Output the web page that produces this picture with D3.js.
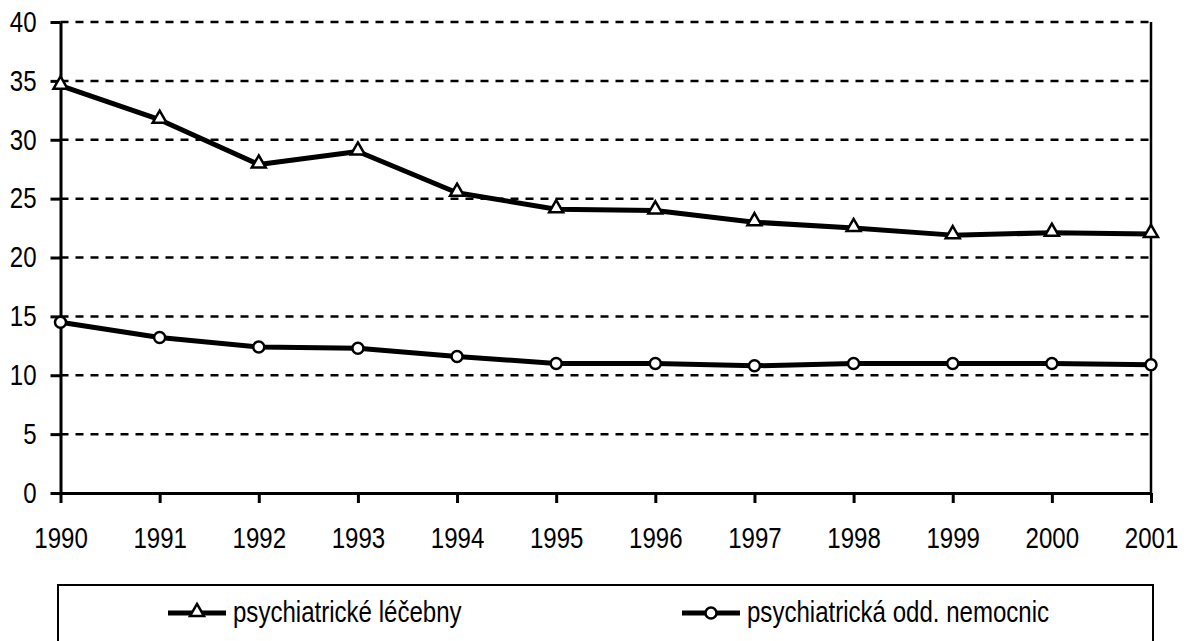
<!DOCTYPE html>
<html>
<head>
<meta charset="utf-8">
<script src="https://cdn.jsdelivr.net/npm/d3@7"></script>
<style>
  body { margin: 0; background: #fff; }
  svg { display: block; font-family: "Liberation Sans", Arial, sans-serif; }
</style>
</head>
<body>
<svg></svg>
<script>
const years = [1990, 1991, 1992, 1993, 1994, 1995, 1996, 1997, 1998, 1999, 2000, 2001];
const lecebny = [34.6, 31.7, 27.9, 29.0, 25.5, 24.1, 24.0, 23.0, 22.5, 21.9, 22.1, 22.0];
const oddeleni = [14.5, 13.2, 12.4, 12.3, 11.6, 11.0, 11.0, 10.8, 11.0, 11.0, 11.0, 10.9];
const yTicks = [0, 5, 10, 15, 20, 25, 30, 35, 40];
const seriesNames = ['psychiatrické léčebny', 'psychiatrická odd. nemocnic'];

const width = 1184;
const height = 641;
const plotLeft = 60.5, plotRight = 1151, plotTop = 22, plotBottom = 493;
// the original text is narrow and tall
const fontSize = 29, squeeze = 0.83;

const svg = d3.select('svg')
    .attr('width', width)
    .attr('height', height);

const x = d3.scaleLinear()
    .domain(d3.extent(years))
    .range([plotLeft, plotRight]);

const y = d3.scaleLinear()
    .domain([0, 40])
    .range([plotBottom, plotTop]);

// dashed gridlines
svg.append('g')
  .selectAll('line')
  .data(yTicks.filter(d => d > 0))
  .enter()
  .append('line')
    .attr('x1', plotLeft)
    .attr('x2', plotRight)
    .attr('y1', d => y(d))
    .attr('y2', d => y(d))
    .attr('stroke', '#000')
    .attr('stroke-width', 2.5)
    .attr('stroke-dasharray', '8,7');

// right edge of the plot
svg.append('line')
    .attr('x1', plotRight)
    .attr('x2', plotRight)
    .attr('y1', plotTop)
    .attr('y2', plotBottom)
    .attr('stroke', '#000')
    .attr('stroke-width', 2.5);

const yAxis = svg.append('g')
    .attr('transform', `translate(${plotLeft},0)`)
    .call(d3.axisLeft(y).tickValues(yTicks).tickSize(10).tickSizeOuter(0));

const xAxis = svg.append('g')
    .attr('transform', `translate(0,${plotBottom})`)
    .call(d3.axisBottom(x).tickValues(years).tickFormat(d3.format('d'))
      .tickSize(10).tickSizeOuter(0).tickPadding(24));

[yAxis, xAxis].forEach(g => {
  g.selectAll('path, line').attr('stroke', '#000').attr('stroke-width', 3);
  g.selectAll('text').attr('fill', '#000').attr('font-size', fontSize)
    .attr('font-family', '"Liberation Sans", Arial, sans-serif')
    .attr('transform', `scale(${squeeze},1)`);
});
yAxis.selectAll('text').attr('x', -24 / squeeze);

const line = d3.line()
    .x((d, i) => x(years[i]))
    .y(d => y(d));

const triangle = d3.symbol().type(d3.symbolTriangle).size(85);

function drawSeries(values, marker) {
  svg.append('path')
      .datum(values)
      .attr('fill', 'none')
      .attr('stroke', '#000')
      .attr('stroke-width', 5)
      .attr('stroke-linejoin', 'round')
      .attr('d', line);

  const pts = svg.append('g')
    .selectAll('.pt')
    .data(values)
    .enter();

  if (marker === 'triangle') {
    pts.append('path')
        .attr('d', triangle)
        .attr('transform', (d, i) => `translate(${x(years[i])},${y(d) - 1})`)
        .attr('fill', '#fff')
        .attr('stroke', '#000')
        .attr('stroke-width', 2.5);
  } else {
    pts.append('circle')
        .attr('cx', (d, i) => x(years[i]))
        .attr('cy', d => y(d))
        .attr('r', 5.5)
        .attr('fill', '#fff')
        .attr('stroke', '#000')
        .attr('stroke-width', 2.5);
  }
}

drawSeries(lecebny, 'triangle');
drawSeries(oddeleni, 'circle');

// legend
const legend = svg.append('g');
legend.append('rect')
    .attr('x', 58)
    .attr('y', 585)
    .attr('width', 1095)
    .attr('height', 70)
    .attr('fill', 'none')
    .attr('stroke', '#000')
    .attr('stroke-width', 2);

const legendItems = [
  {name: seriesNames[0], marker: 'triangle', x0: 168},
  {name: seriesNames[1], marker: 'circle', x0: 682}
];

legendItems.forEach(it => {
  const ly = 613;
  legend.append('line')
      .attr('x1', it.x0)
      .attr('x2', it.x0 + 58)
      .attr('y1', ly)
      .attr('y2', ly)
      .attr('stroke', '#000')
      .attr('stroke-width', 5);
  if (it.marker === 'triangle') {
    legend.append('path')
        .attr('d', triangle)
        .attr('transform', `translate(${it.x0 + 29},${ly - 1})`)
        .attr('fill', '#fff')
        .attr('stroke', '#000')
        .attr('stroke-width', 2.5);
  } else {
    legend.append('circle')
        .attr('cx', it.x0 + 29)
        .attr('cy', ly)
        .attr('r', 5.5)
        .attr('fill', '#fff')
        .attr('stroke', '#000')
        .attr('stroke-width', 2.5);
  }
  legend.append('text')
      .attr('transform', `translate(${it.x0 + 65},622) scale(${squeeze},1)`)
      .attr('font-size', fontSize)
      .attr('fill', '#000')
      .text(it.name);
});
</script>
</body>
</html>
